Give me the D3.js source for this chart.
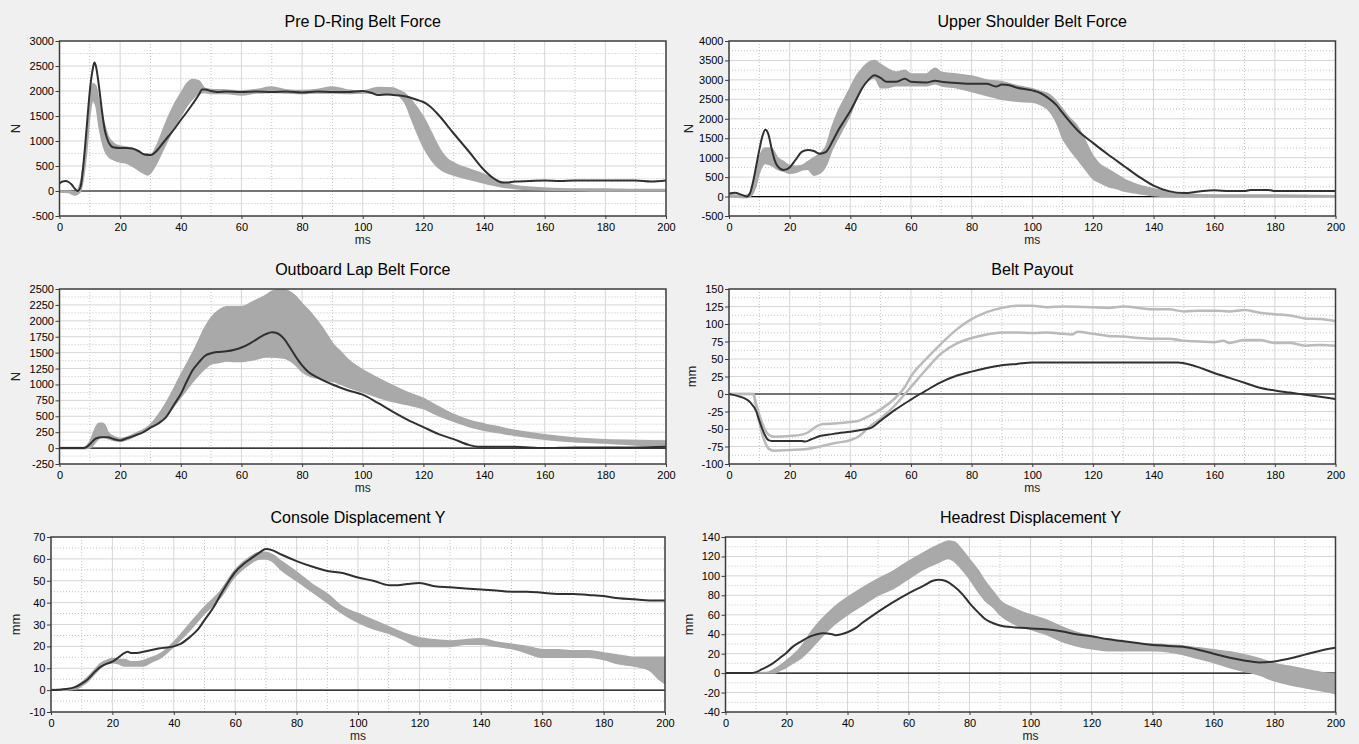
<!DOCTYPE html>
<html><head><meta charset="utf-8">
<script src="https://cdn.jsdelivr.net/npm/d3@7"></script>
<style>
html,body{margin:0;padding:0;background:#f0f0f0;}
svg{display:block;font-family:"Liberation Sans",Arial,sans-serif;}
</style></head><body>
<svg id="chart" width="1359" height="744"></svg>
<script>
// ---------- DATA ----------
const xTicks = [0,20,40,60,80,100,120,140,160,180,200];
const preDRingTicks = [-500,0,500,1000,1500,2000,2500,3000];
const upperShoulderTicks = [-500,0,500,1000,1500,2000,2500,3000,3500,4000];
const lapTicks = [-250,0,250,500,750,1000,1250,1500,1750,2000,2250,2500];
const payoutTicks = [-100,-75,-50,-25,0,25,50,75,100,125,150];
const consoleTicks = [-10,0,10,20,30,40,50,60,70];
const headrestTicks = [-40,-20,0,20,40,60,80,100,120,140];

// Pre D-Ring Belt Force
const preDRingTest = [[0,150],[1,190],[2,200],[3,180],[4,130],[5,50],[6,0],[7,100],[8,600],[9,1300],[10,2000],[11,2450],[11.5,2570],[12,2500],[13,2100],[14,1600],[15,1200],[16,1000],[17,900],[18,870],[20,860],[22,860],[24,850],[26,800],[28,730],[30,720],[32,800],[34,950],[36,1100],[38,1250],[40,1420],[42,1580],[44,1750],[46,1930],[47,2030],[48,2030],[50,2000],[52,1980],[55,1990],[60,1980],[65,1990],[70,1980],[75,1990],[80,1970],[85,1990],[90,1980],[95,1980],[100,2000],[103,1960],[105,1920],[108,1930],[110,1920],[115,1880],[118,1820],[120,1780],[122,1700],[125,1520],[130,1150],[135,790],[140,420],[143,260],[146,170],[148,170],[150,190],[155,200],[160,210],[165,200],[170,210],[180,210],[190,210],[195,190],[200,210]];
const preDRingBand = [[0,-20,0],[3,-30,0],[5,-80,-20],[6,-60,20],[7,0,200],[8,300,600],[9,800,1100],[10,1500,1800],[11,1800,2150],[12,1700,2100],[13,1300,1800],[14,1000,1500],[15,800,1300],[16,700,1100],[18,620,950],[20,580,900],[22,560,880],[24,500,850],[26,420,800],[28,350,740],[29,320,740],[30,360,720],[32,550,900],[34,800,1200],[36,1050,1500],[38,1300,1750],[40,1500,1950],[42,1700,2150],[44,1850,2230],[46,1950,2200],[48,1970,2050],[50,1950,2030],[55,1950,2020],[60,1920,2000],[65,1960,2030],[70,1970,2080],[75,1960,2020],[80,1950,2010],[85,1960,2030],[90,1960,2080],[95,1950,2020],[100,1960,2000],[105,1960,2070],[110,1950,2060],[112,1900,2010],[114,1750,1950],[116,1450,1820],[118,1150,1660],[120,880,1480],[122,680,1250],[124,520,1000],[126,420,780],[128,360,640],[130,320,560],[134,250,460],[138,190,380],[142,130,280],[146,80,180],[150,50,110],[160,20,60],[170,10,40],[180,0,40],[190,0,30],[200,0,30]];

// Upper Shoulder Belt Force
const upperShoulderTest = [[0,80],[2,100],[4,50],[6,0],[7,100],[8,400],[9,800],[10,1200],[11,1550],[12,1720],[13,1600],[14,1250],[15,950],[16,780],[18,680],[20,750],[22,950],[24,1150],[26,1200],[28,1170],[30,1100],[32,1150],[34,1400],[36,1700],[38,1950],[40,2200],[42,2500],[44,2800],[46,3000],[48,3120],[50,3050],[52,2950],[55,2950],[58,3030],[60,2950],[65,2930],[68,2980],[70,2950],[75,2920],[80,2900],[85,2900],[88,2830],[90,2880],[92,2870],[95,2800],[100,2730],[103,2650],[105,2550],[108,2350],[110,2150],[115,1700],[120,1380],[125,1080],[130,800],[135,520],[140,280],[145,140],[150,90],[155,130],[160,160],[165,140],[170,140],[172,170],[178,170],[180,140],[200,140]];
const upperShoulderBand = [[0,0,50],[5,-30,20],[7,0,100],[9,300,600],[10,600,1000],[12,850,1250],[14,800,1250],[16,700,1000],[18,650,900],[20,600,800],[22,620,780],[24,680,800],[26,700,900],[28,550,1000],[30,600,1100],[32,800,1300],[34,1200,1800],[36,1500,2200],[38,1800,2500],[40,2100,2800],[42,2500,3100],[44,2800,3300],[46,3000,3450],[48,3050,3500],[50,2800,3400],[52,2800,3300],[55,2850,3200],[58,2850,3250],[60,2850,3150],[65,2850,3150],[68,2900,3300],[70,2850,3200],[75,2800,3150],[80,2700,3100],[85,2600,3000],[90,2500,2950],[95,2450,2850],[100,2430,2770],[103,2350,2700],[105,2250,2650],[108,1900,2450],[110,1500,2250],[112,1250,2050],[115,950,1800],[118,650,1350],[120,460,1050],[122,370,850],[125,260,700],[128,200,560],[130,150,460],[135,80,300],[140,20,200],[145,0,120],[150,0,70],[160,0,40],[180,0,40],[200,0,20]];

// Outboard Lap Belt Force
const lapTest = [[0,0],[5,0],[8,0],[9,20],[10,60],[12,150],[14,170],[16,170],[18,140],[20,120],[22,150],[25,200],[28,260],[30,320],[33,400],[35,480],[38,700],[40,850],[42,1050],[44,1230],[46,1350],[48,1450],[50,1490],[52,1510],[55,1520],[58,1550],[60,1580],[63,1650],[65,1710],[68,1790],[70,1820],[72,1800],[74,1720],[76,1580],[78,1430],[80,1300],[82,1200],[85,1110],[88,1040],[90,1000],[95,910],[100,840],[105,710],[110,570],[115,440],[120,330],[125,220],[130,140],[135,50],[138,20],[140,20],[150,20],[160,0],[170,10],[180,10],[190,10],[200,20]];
const lapBand = [[0,-10,10],[8,-10,10],[10,0,100],[12,100,330],[13,150,390],[14,180,390],[15,170,360],[16,150,250],[18,120,180],[20,110,150],[25,190,230],[30,320,370],[35,500,700],[40,800,1150],[45,1100,1600],[48,1250,1900],[50,1320,2050],[53,1350,2180],[55,1370,2220],[58,1360,2220],[60,1360,2220],[63,1380,2280],[65,1400,2330],[68,1430,2400],[70,1430,2460],[73,1420,2500],[75,1400,2480],[78,1300,2380],[80,1200,2270],[83,1120,2120],[85,1100,2000],[88,1060,1800],[90,1050,1650],[93,1000,1500],[95,960,1400],[100,880,1230],[105,800,1100],[110,730,980],[115,680,870],[120,620,780],[125,510,650],[130,420,530],[135,340,440],[140,280,380],[145,240,330],[150,200,280],[160,140,210],[170,100,160],[180,80,130],[190,50,120],[200,30,110]];

// Belt Payout
const payoutTest = [[0,0],[3,-3],[5,-6],[7,-12],[9,-25],[10,-38],[11,-50],[12,-60],[13,-66],[14,-67],[16,-67],[20,-67],[24,-67],[25,-68],[27,-65],[30,-60],[33,-58],[36,-56],[40,-54],[44,-51],[47,-48],[50,-38],[55,-22],[60,-8],[63,0],[65,5],[70,17],[75,26],[80,32],[85,37],[90,41],[95,43],[100,45],[110,45],[120,45],[130,45],[140,45],[148,45],[150,44],[155,38],[160,30],[165,23],[170,16],[175,9],[180,5],[185,2],[190,-1],[195,-4],[200,-7]];
const payoutUpper = [[0,0],[5,0],[8,0],[9,-15],[10,-30],[11,-42],[12,-52],[13,-58],[15,-61],[20,-60],[24,-58],[26,-55],[29,-46],[31,-43],[35,-42],[40,-40],[43,-38],[46,-32],[50,-22],[55,-5],[58,10],[60,25],[65,50],[70,72],[75,92],[80,107],[85,117],[90,123],[95,126],[100,126],[105,124],[110,125],[120,124],[125,123],[130,125],[140,121],[145,121],[150,118],[155,119],[160,119],[165,118],[170,120],[175,116],[180,114],[185,112],[190,108],[195,107],[200,104]];
const payoutLower = [[0,0],[8,0],[9,-20],[10,-40],[11,-58],[12,-70],[13,-78],[15,-81],[20,-80],[25,-79],[30,-75],[35,-70],[40,-66],[43,-60],[46,-48],[50,-35],[55,-15],[58,0],[60,10],[65,35],[70,58],[75,72],[80,80],[85,85],[90,88],[95,88],[100,87],[105,88],[110,86],[113,85],[115,89],[120,86],[125,83],[130,82],[135,80],[140,79],[145,79],[150,76],[155,75],[160,74],[163,76],[165,73],[170,77],[175,77],[180,73],[185,73],[190,69],[195,70],[200,69]];

// Console Displacement Y
const consoleTest = [[0,0],[5,0.5],[8,1.5],[10,3],[12,5],[14,8],[16,10.5],[18,12],[20,13],[22,15],[24,17],[25,17.5],[26,17],[28,17],[30,17.5],[35,19],[40,20],[42,21],[45,24],[48,28],[50,32],[53,38],[55,43],[58,50],[60,54],[63,58],[65,60],[68,63],[70,64.5],[72,64],[75,62],[80,59],[85,56.5],[90,54.5],[95,53.5],[100,51.5],[105,50],[110,48],[113,48],[116,48.5],[120,49],[125,47.5],[130,47],[140,46],[145,45.5],[150,45],[155,45],[160,44.5],[165,44],[170,44],[175,43.5],[180,43],[185,42],[190,41.5],[195,41],[200,41]];
const consoleBand = [[0,0,0.3],[5,0,0.5],[8,0.5,1.5],[10,2,3.5],[12,4,6],[14,7,9],[16,10,12],[18,12,13.5],[20,12.5,14.5],[22,12,14],[24,11,14],[26,11,13],[28,11,13],[30,11,13.5],[33,13,15],[36,15,17],[40,20,22],[45,27,30],[50,35,38],[55,42,45],[60,52,55],[65,58,61],[68,60,63],[70,60,63],[72,59,62],[75,55,59],[80,50,54],[85,45,48.5],[90,40,44],[95,35,38],[100,31,35],[105,28,32],[110,26,29],[115,23,26],[120,20,24],[125,20,23],[130,20,22.5],[135,21,23],[140,21,23.5],[145,20,22],[150,19,21],[155,17,20],[160,15,18.5],[165,15,18.5],[170,15,18],[175,15,18],[180,14,17],[185,12,16],[190,11,15],[195,9,15],[198,5,15],[200,3,15]];

// Headrest Displacement Y
const headrestTest = [[0,0],[8,0],[10,1],[12,4],[15,9],[18,16],[20,21],[22,27],[25,33],[28,38],[30,40],[32,41],[35,40],[36,39],[38,40],[40,42],[43,47],[45,52],[50,63],[55,73],[60,82],[65,90],[68,95],[70,96],[72,95],[75,89],[78,80],[80,72],[83,62],[85,56],[88,51],[90,49],[95,47],[100,46],[105,45],[110,43],[115,40],[120,38],[125,35],[130,33],[135,31],[140,29],[145,28],[150,27],[155,24],[160,20],[165,16],[170,13],[175,11],[180,12],[185,15],[190,19],[195,23],[200,26]];
const headrestBand = [[0,0,0.5],[10,0,0.5],[14,0,1],[16,0,4],[18,3,8],[20,6,13],[22,10,18],[25,16,28],[28,25,42],[30,32,50],[33,42,60],[35,48,66],[40,60,78],[45,70,88],[50,80,97],[55,87,105],[60,97,115],[65,107,124],[70,114,132],[73,118,136],[75,115,135],[78,105,125],[80,97,117],[83,83,105],[85,75,95],[88,67,83],[90,60,75],[95,50,66],[100,45,60],[105,40,55],[110,33,48],[115,28,42],[120,25,38],[125,23,35],[130,23,32],[135,23,30],[140,23,30],[145,22,29],[150,19,28],[155,15,26],[160,11,24],[165,6,22],[170,2,19],[175,-2,15],[180,-8,10],[185,-12,7],[190,-15,4],[195,-18,1],[200,-21,-1]];

// ---------- LAYOUT ----------
const panels = [
  {title:"Pre D-Ring Belt Force", yLabel:"N", L:59.5, T:41, R:666, B:216, labelX:15, yTicks:preDRingTicks, band:preDRingBand, light:[], line:preDRingTest},
  {title:"Upper Shoulder Belt Force", yLabel:"N", L:729, T:41, R:1335.5, B:216, labelX:688, yTicks:upperShoulderTicks, band:upperShoulderBand, light:[], line:upperShoulderTest},
  {title:"Outboard Lap Belt Force", yLabel:"N", L:59.5, T:289, R:666, B:464, labelX:15, yTicks:lapTicks, band:lapBand, light:[], line:lapTest},
  {title:"Belt Payout", yLabel:"mm", L:729, T:289, R:1335.5, B:464, labelX:691, yTicks:payoutTicks, band:null, light:[payoutUpper,payoutLower], line:payoutTest},
  {title:"Console Displacement Y", yLabel:"mm", L:51, T:537, R:665, B:712, labelX:15, yTicks:consoleTicks, band:consoleBand, light:[], line:consoleTest},
  {title:"Headrest Displacement Y", yLabel:"mm", L:725.5, T:537, R:1335.5, B:712, labelX:688, yTicks:headrestTicks, band:headrestBand, light:[], line:headrestTest}
];

const svg = d3.select("#chart");
svg.append("rect").attr("width",1359).attr("height",744).attr("fill","#f0f0f0");

panels.forEach((p,i) => {
  const g = svg.append("g");
  const x = d3.scaleLinear().domain([0,200]).range([p.L,p.R]);
  const yMin = d3.min(p.yTicks), yMax = d3.max(p.yTicks);
  const y = d3.scaleLinear().domain([yMin,yMax]).range([p.B,p.T]);
  const yStep = p.yTicks[1]-p.yTicks[0];

  g.append("rect").attr("x",p.L).attr("y",p.T).attr("width",p.R-p.L).attr("height",p.B-p.T).attr("fill","#fff");
  const clipId = "clip"+i;
  g.append("clipPath").attr("id",clipId).append("rect")
    .attr("x",p.L).attr("y",p.T).attr("width",p.R-p.L).attr("height",p.B-p.T);

  // minor grid (dotted)
  const xMinor = xTicks.slice(0,-1).map(v=>v+10);
  const yMinor = p.yTicks.slice(0,-1).map(v=>v+yStep/2);
  g.append("g").selectAll("line").data(xMinor).join("line")
    .attr("x1",d=>x(d)).attr("x2",d=>x(d)).attr("y1",p.T).attr("y2",p.B)
    .attr("stroke","#c4c4c4").attr("stroke-width",1).attr("stroke-dasharray","1,2");
  g.append("g").selectAll("line").data(yMinor).join("line")
    .attr("y1",d=>y(d)).attr("y2",d=>y(d)).attr("x1",p.L).attr("x2",p.R)
    .attr("stroke","#c4c4c4").attr("stroke-width",1).attr("stroke-dasharray","1,2");
  // major grid (solid)
  g.append("g").selectAll("line").data(xTicks.slice(1,-1)).join("line")
    .attr("x1",d=>x(d)).attr("x2",d=>x(d)).attr("y1",p.T).attr("y2",p.B)
    .attr("stroke","#d6d6d6").attr("stroke-width",1);
  g.append("g").selectAll("line").data(p.yTicks.slice(1,-1)).join("line")
    .attr("y1",d=>y(d)).attr("y2",d=>y(d)).attr("x1",p.L).attr("x2",p.R)
    .attr("stroke","#d6d6d6").attr("stroke-width",1);
  // zero line
  g.append("line").attr("x1",p.L).attr("x2",p.R).attr("y1",y(0)).attr("y2",y(0))
    .attr("stroke","#000").attr("stroke-width",1.2);

  const plot = g.append("g").attr("clip-path",`url(#${clipId})`);
  if (p.band) {
    const area = d3.area().x(d=>x(d[0])).y0(d=>y(d[1])).y1(d=>y(d[2])).curve(d3.curveMonotoneX);
    plot.append("path").datum(p.band).attr("d",area)
      .attr("fill","#a9a9a9").attr("stroke","#a9a9a9").attr("stroke-width",1.5);
  }
  const lineGen = d3.line().x(d=>x(d[0])).y(d=>y(d[1])).curve(d3.curveMonotoneX);
  p.light.forEach(s => {
    plot.append("path").datum(s).attr("d",lineGen)
      .attr("fill","none").attr("stroke","#bababa").attr("stroke-width",2.5);
  });
  plot.append("path").datum(p.line).attr("d",lineGen)
    .attr("fill","none").attr("stroke","#303030").attr("stroke-width",2);

  // frame
  g.append("rect").attr("x",p.L).attr("y",p.T).attr("width",p.R-p.L).attr("height",p.B-p.T)
    .attr("fill","none").attr("stroke","#3c3c3c").attr("stroke-width",1.5);

  // axes
  const ya = g.append("g").attr("transform",`translate(${p.L},0)`)
    .call(d3.axisLeft(y).tickValues(p.yTicks).tickSize(4).tickPadding(1.5).tickFormat(d=>String(d)));
  ya.select(".domain").remove();
  ya.selectAll("text").attr("font-size",11).attr("font-family","Liberation Sans, Arial, sans-serif").attr("fill","#000");
  ya.selectAll("line").attr("stroke","#3c3c3c");
  const xa = g.append("g").attr("transform",`translate(0,${p.B})`)
    .call(d3.axisBottom(x).tickValues(xTicks).tickSize(3).tickPadding(4.5).tickFormat(d=>String(d)));
  xa.select(".domain").remove();
  xa.selectAll("text").attr("font-size",11).attr("font-family","Liberation Sans, Arial, sans-serif").attr("fill","#000");
  xa.selectAll("line").attr("stroke","#3c3c3c");

  // titles
  g.append("text").attr("x",(p.L+p.R)/2).attr("y",p.T-14.5).attr("text-anchor","middle")
    .attr("font-size",16).attr("fill","#000").text(p.title);
  g.append("text").attr("x",(p.L+p.R)/2).attr("y",p.B+27.5).attr("text-anchor","middle")
    .attr("font-size",12).attr("fill","#222").text("ms");
  g.append("text").attr("transform",`translate(${p.labelX},${(p.T+p.B)/2}) rotate(-90)`)
    .attr("text-anchor","middle").attr("dy","0.35em")
    .attr("font-size",13).attr("fill","#222").text(p.yLabel);
});
</script>
</body></html>
